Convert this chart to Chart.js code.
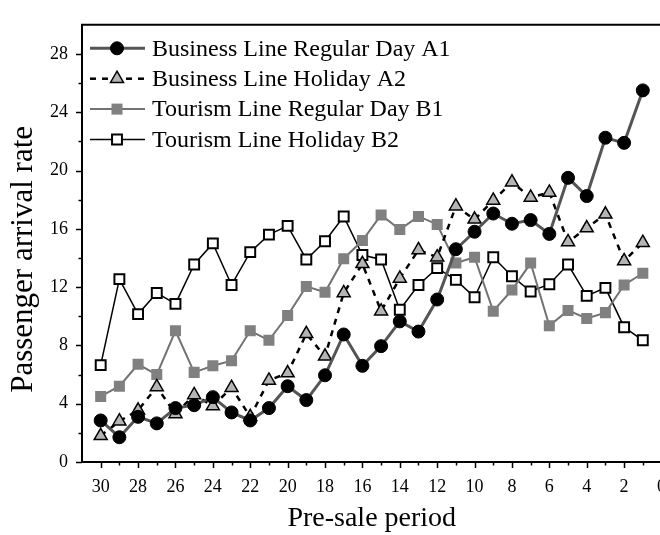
<!DOCTYPE html>
<html>
<head>
<meta charset="utf-8">
<script src="https://cdn.jsdelivr.net/npm/chart.js@4/dist/chart.umd.min.js"></script>
<style>
  html, body { margin: 0; padding: 0; background: #fff; overflow: hidden; }
  #wrap { width: 680px; height: 535px; }
</style>
</head>
<body>
<div id="wrap"><canvas id="myChart"></canvas></div>
<script>
// pre-sale period (days before departure)
const periods = [30, 29, 28, 27, 26, 25, 24, 23, 22, 21, 20, 19, 18, 17, 16,
                 15, 14, 13, 12, 11, 10, 9, 8, 7, 6, 5, 4, 3, 2, 1];

const businessRegularA1 = [2.85, 1.7, 3.1, 2.65, 3.7, 3.9, 4.45, 3.4, 2.85, 3.7, 5.2, 4.25, 5.95, 8.75, 6.6,
                           7.95, 9.65, 8.95, 11.15, 14.6, 15.8, 17.05, 16.35, 16.6, 15.65, 19.5, 18.25, 22.25, 21.9, 25.5];
const businessHolidayA2 = [1.8, 2.8, 3.55, 5.15, 3.3, 4.6, 3.85, 5.1, 3.1, 5.6, 6.1, 8.8, 7.25, 11.6, 13.6,
                           10.35, 12.6, 14.55, 14.05, 17.55, 16.65, 17.95, 19.2, 18.15, 18.5, 15.1, 16.05, 17.0, 13.8, 15.05];
const tourismRegularB1 = [4.5, 5.2, 6.7, 6.0, 9.0, 6.15, 6.6, 6.95, 9.0, 8.35, 10.05, 12.05, 11.65, 13.95, 15.2,
                          16.95, 15.95, 16.85, 16.3, 13.65, 14.05, 10.35, 11.8, 13.65, 9.35, 10.4, 9.85, 10.25, 12.15, 12.95];
const tourismHolidayB2 = [6.65, 12.55, 10.15, 11.6, 10.85, 13.55, 15.0, 12.15, 14.4, 15.6, 16.2, 13.9, 15.15, 16.85, 14.2,
                          13.9, 10.45, 12.15, 13.3, 12.5, 11.3, 14.05, 12.75, 11.7, 12.2, 13.55, 11.4, 11.95, 9.25, 8.35];

const seriesNames = [
    'Business Line Regular Day A1',
    'Business Line Holiday A2',
    'Tourism Line Regular Day B1',
    'Tourism Line Holiday B2'
];
const xTitle = 'Pre-sale period';
const yTitle = 'Passenger arrival rate';

const toPoints = (vals) => vals.map((v, i) => ({ x: periods[i], y: v }));

const FONT = "'Liberation Serif', 'Times New Roman', serif";
Chart.defaults.font.family = FONT;
Chart.defaults.color = '#000';

const data = {
    datasets: [{
        label: seriesNames[0],
        data: toPoints(businessRegularA1),
        borderColor: '#555555',
        borderWidth: 3,
        pointStyle: 'circle',
        pointRadius: 6.5,
        pointBackgroundColor: '#000',
        pointBorderColor: '#000',
        pointBorderWidth: 1
    }, {
        label: seriesNames[1],
        data: toPoints(businessHolidayA2),
        borderColor: '#000',
        borderWidth: 2.5,
        borderDash: [6, 6],
        pointStyle: 'triangle',
        pointRadius: 7.5,
        pointBackgroundColor: '#b4b4b4',
        pointBorderColor: '#000',
        pointBorderWidth: 1.5
    }, {
        label: seriesNames[2],
        data: toPoints(tourismRegularB1),
        borderColor: '#727272',
        borderWidth: 2,
        pointStyle: 'rect',
        pointRadius: 7.8,
        pointBackgroundColor: '#808080',
        pointBorderColor: '#808080',
        pointBorderWidth: 0
    }, {
        label: seriesNames[3],
        data: toPoints(tourismHolidayB2),
        borderColor: '#000',
        borderWidth: 1.5,
        pointStyle: 'rect',
        pointRadius: 7,
        pointBackgroundColor: '#fff',
        pointBorderColor: '#000',
        pointBorderWidth: 2
    }]
};

// outward major/minor ticks, top frame line and the y title
const frameTicks = {
    id: 'frameTicks',
    afterDraw(chart) {
        const ctx = chart.ctx;
        const xs = chart.scales.x, ys = chart.scales.y;
        const area = chart.chartArea;
        ctx.save();
        ctx.strokeStyle = '#000';
        ctx.lineWidth = 2;
        ctx.beginPath();
        ctx.moveTo(area.left - 1, area.top);
        ctx.lineTo(chart.width, area.top);
        ctx.stroke();
        ctx.lineWidth = 1.5;
        for (let v = 0; v <= 30; v++) {
            const px = Math.round(xs.getPixelForValue(v)) + 0.5;
            const len = v % 2 === 0 ? 6 : 3.5;
            ctx.beginPath();
            ctx.moveTo(px, area.bottom);
            ctx.lineTo(px, area.bottom + len);
            ctx.stroke();
        }
        for (let v = 0; v <= 28; v += 2) {
            const py = Math.round(ys.getPixelForValue(v)) + 0.5;
            const len = v % 4 === 0 ? 6 : 3.5;
            ctx.beginPath();
            ctx.moveTo(area.left, py);
            ctx.lineTo(area.left - len, py);
            ctx.stroke();
        }
        // y axis title, a little below the plot centre as in the source figure
        ctx.translate(24, (area.top + area.bottom) / 2 + 16);
        ctx.rotate(-Math.PI / 2);
        ctx.fillStyle = '#000';
        ctx.font = '31px ' + FONT;
        ctx.textAlign = 'center';
        ctx.textBaseline = 'middle';
        ctx.fillText(yTitle, 0, 0);
        ctx.restore();
    }
};

function drawMarker(ctx, ds, x, y) {
    const r = ds.pointRadius;
    ctx.save();
    ctx.setLineDash([]);
    ctx.fillStyle = ds.pointBackgroundColor;
    ctx.strokeStyle = ds.pointBorderColor;
    ctx.lineWidth = ds.pointBorderWidth;
    ctx.beginPath();
    if (ds.pointStyle === 'circle') {
        ctx.arc(x, y, r, 0, Math.PI * 2);
    } else if (ds.pointStyle === 'triangle') {
        for (let k = 0; k < 3; k++) {
            const a = k * 2 * Math.PI / 3;
            const px = x + Math.sin(a) * r, py = y - Math.cos(a) * r;
            k === 0 ? ctx.moveTo(px, py) : ctx.lineTo(px, py);
        }
        ctx.closePath();
    } else {
        const s = Math.SQRT1_2 * r;
        ctx.rect(x - s, y - s, 2 * s, 2 * s);
    }
    ctx.fill();
    if (ds.pointBorderWidth > 0) ctx.stroke();
    ctx.restore();
}

// legend with line sample + marker, drawn inside the plot
const lineLegend = {
    id: 'lineLegend',
    afterDraw(chart) {
        const ctx = chart.ctx;
        const area = chart.chartArea;
        const x0 = area.left + 8, x1 = area.left + 63, xm = area.left + 35, xt = area.left + 70;
        chart.data.datasets.forEach((ds, i) => {
            const y = area.top + 23.5 + i * 30.4;
            ctx.save();
            ctx.strokeStyle = ds.borderColor;
            ctx.lineWidth = ds.borderWidth;
            ctx.setLineDash(ds.borderDash || []);
            ctx.beginPath();
            ctx.moveTo(x0, y);
            ctx.lineTo(x1, y);
            ctx.stroke();
            ctx.restore();
            drawMarker(ctx, ds, xm, y);
            ctx.save();
            ctx.fillStyle = '#000';
            ctx.font = '24px ' + FONT;
            ctx.textBaseline = 'middle';
            ctx.textAlign = 'left';
            ctx.fillText(ds.label, xt, y + 1);
            ctx.restore();
        });
    }
};

const config = {
    type: 'line',
    data: data,
    options: {
        animation: false,
        responsive: true,
        maintainAspectRatio: false,
        layout: { padding: { top: 11, right: 18, left: 0, bottom: 0 } },
        plugins: { legend: { display: false }, tooltip: { enabled: false } },
        scales: {
            x: {
                type: 'linear',
                reverse: true,
                min: 0,
                max: 31,
                grid: { display: false, drawTicks: false },
                border: { display: true, color: '#000', width: 2 },
                ticks: {
                    stepSize: 1,
                    autoSkip: false,
                    maxRotation: 0,
                    padding: 14,
                    font: { size: 18 },
                    callback: (v) => (v % 2 === 0 ? String(v) : '')
                },
                title: {
                    display: true,
                    text: xTitle,
                    font: { size: 28 },
                    padding: { top: 0, bottom: 0 }
                },
                afterFit: (scale) => { scale.height = 73; }
            },
            y: {
                min: 0,
                max: 30,
                grid: { display: false, drawTicks: false },
                border: { display: true, color: '#000', width: 2 },
                ticks: {
                    stepSize: 2,
                    padding: 14,
                    font: { size: 18 },
                    callback: (v) => (v % 4 === 0 && v < 30 ? String(v) : '')
                },
                afterFit: (scale) => { scale.width = 82; }
            }
        }
    },
    plugins: [frameTicks, lineLegend]
};

new Chart(document.getElementById('myChart'), config);
</script>
</body>
</html>
